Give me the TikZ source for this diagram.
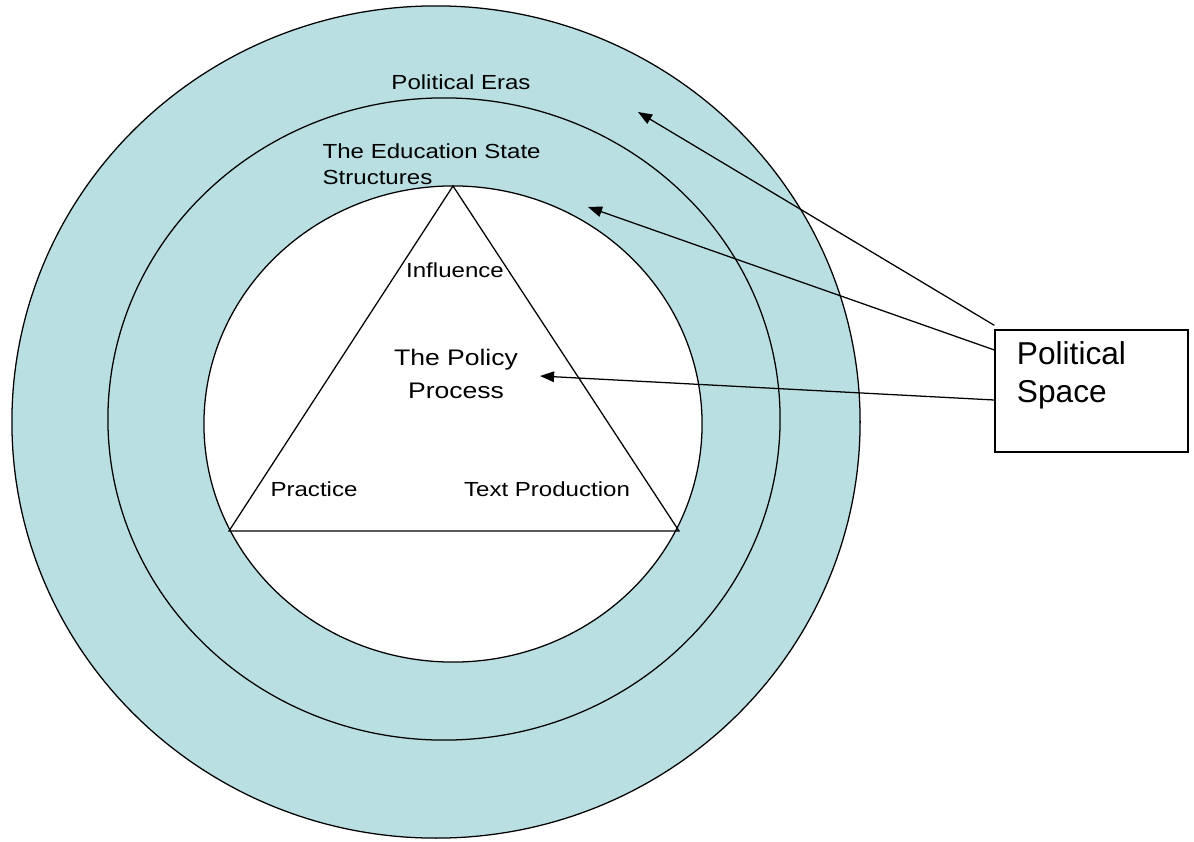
\documentclass[tikz,border=0pt]{standalone}
\usepackage{fontspec}
\setmainfont{Liberation Sans}
\newfontfamily\widefont[FakeStretch=1.18]{Liberation Sans}
\usetikzlibrary{arrows.meta}
\definecolor{ringblue}{RGB}{185,223,227}

\begin{document}
\begin{tikzpicture}[x=0.025cm,y=-0.025cm,line width=0.9pt,
    lab/.style={font=\widefont\fontsize{14.5}{18.5}\selectfont,inner sep=0pt},
    biglab/.style={font=\fontsize{22.5}{26.5}\selectfont,inner sep=0pt,align=left},
    spacebox/.style={draw,minimum width=4.825cm,minimum height=3.05cm,inner sep=0pt},
    arr/.style={-{Triangle[length=10pt,width=7.5pt]}}]
    \useasboundingbox (0,0) rectangle (1194,841);
    % rings
    \draw[fill=ringblue] (436,422) ellipse [x radius=10.6cm,y radius=10.4cm];
    \draw[fill=ringblue] (444,419) ellipse [x radius=8.4cm,y radius=8.025cm];
    \draw[fill=white] (453,424) ellipse [x radius=6.225cm,y radius=5.95cm];
    % triangle
    \coordinate (top) at (453,186);
    \coordinate (left) at (229,531);
    \coordinate (right) at (679,531);
    \draw (top) -- (left) -- (right) -- cycle;
    % labels
    \node[lab] (eras) at (461,82) {Political Eras};
    \node[lab,anchor=west,align=left] (state) at (322,164) {The Education State\\Structures};
    \node[lab] (influence) at (455,270) {Influence};
    \node[lab,align=center,font=\widefont\fontsize{16}{23.5}\selectfont] (policy) at (456,374) {The Policy\\Process};
    \node[lab] (practice) at (314,489) {Practice};
    \node[lab] (textprod) at (547,489) {Text Production};
    % political space
    \node[spacebox] (space) at (1091.5,391) {};
    \node[biglab,anchor=north west] (spacetext) at ([xshift=0.55cm,yshift=-0.3cm]space.north west) {Political\\Space};
    \coordinate (erastip) at (638,112);
    \coordinate (statetip) at (588,207);
    \coordinate (policytip) at (540,376);
    \draw[arr] ([yshift=0.1cm]space.north west) -- (erastip);
    \draw[arr] ([yshift=1.025cm]space.west) -- (statetip);
    \draw[arr] ([yshift=-0.225cm]space.west) -- (policytip);
\end{tikzpicture}
\end{document}
